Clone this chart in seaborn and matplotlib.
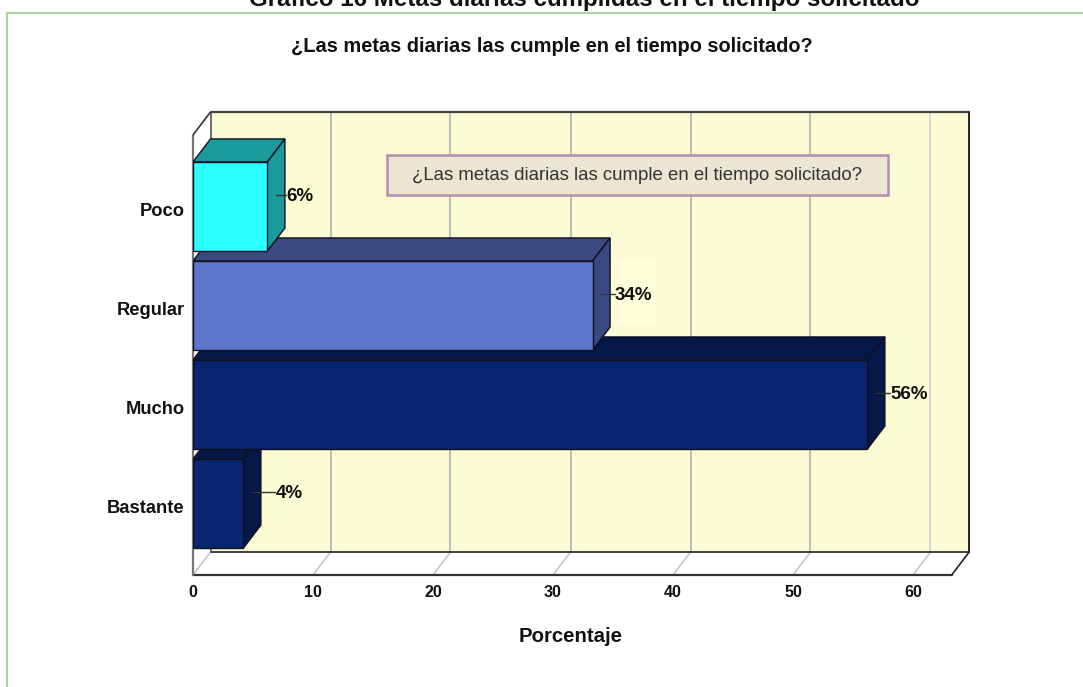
import numpy as np
import pandas as pd
import seaborn as sns
import matplotlib.pyplot as plt
from matplotlib.lines import Line2D
from matplotlib.patches import Rectangle

# === Datos ===
categorias = ["Poco", "Regular", "Mucho", "Bastante"]
porcentajes = [6.2, 33.3, 56.2, 4.2]
etiquetas = ["6%", "34%", "56%", "4%"]
ticks_x = [0, 10, 20, 30, 40, 50, 60]

titulo = "Gráfico 16 Metas diarias cumplidas en el tiempo solicitado"
subtitulo = "¿Las metas diarias las cumple en el tiempo solicitado?"
leyenda = "¿Las metas diarias las cumple en el tiempo solicitado?"
eje_x = "Porcentaje"

# === Colores ===
color_frente = ["#29FFFF", "#5C77CC", "#08266F", "#08266F"]
color_lado = ["#1A9A9A", "#3A4A80", "#051848", "#051848"]
color_pared = "#FBFBD4"

# === Layout (pixeles) ===
W, H = 1083, 687
PX_X = 12.0   # pixeles por unidad en x
PX_Y = 99.0   # pixeles por categoria
dx = 17.5 / PX_X
dy = -23 / PX_Y
gap_etiqueta = [19, 22, 23, 32]
x_frente_max = (951.7 - 193) / PX_X

sns.set_theme(style="white")
plt.rcParams["font.family"] = ["Liberation Sans", "DejaVu Sans"]

fig = plt.figure(figsize=(W / 100, H / 100), dpi=100, facecolor="white")
ax = fig.add_axes([193 / W, 1 - 575 / H, (969 - 193) / W, (575 - 112) / H])

df = pd.DataFrame({"categoria": categorias, "porcentaje": porcentajes})
sns.barplot(data=df, y="categoria", x="porcentaje", hue="categoria",
            palette=color_frente, hue_order=categorias, width=0.9, saturation=1,
            edgecolor="#101020", linewidth=1, legend=False, ax=ax, zorder=20)
barras = [p for p in ax.patches if p.get_width() > 0]

y_suelo = 3 + (575 - 503.5) / PX_Y
y_techo = y_suelo - (575 - 135) / PX_Y
ax.set_xlim(0, (969 - 193) / PX_X)
ax.set_ylim(y_suelo, y_techo + dy)
ax.set_facecolor("white")
for s in ax.spines.values():
    s.set_visible(False)

# === Caja 3D: pared, suelo y rejilla ===
ax.fill([dx, x_frente_max + dx, x_frente_max + dx, dx],
        [y_techo + dy, y_techo + dy, y_suelo + dy, y_suelo + dy],
        color=color_pared, lw=0, zorder=1)
for t in ticks_x[1:]:
    c = "#D0D0D0" if t == 60 else "#B4B4B4"
    ax.plot([t + dx, t + dx], [y_techo + dy, y_suelo + dy], color=c, lw=1.2, zorder=2)
for t in ticks_x:
    ax.plot([t, t + dx], [y_suelo, y_suelo + dy], color="#C4C4C4", lw=1.2, zorder=2)
ax.plot([dx, x_frente_max + dx], [y_techo + dy, y_techo + dy], color="#444444", lw=1.6, zorder=3, clip_on=False)
ax.plot([x_frente_max + dx, x_frente_max + dx], [y_techo + dy, y_suelo + dy], color="#222222", lw=1.4, zorder=3, clip_on=False)
ax.plot([dx, x_frente_max + dx], [y_suelo + dy, y_suelo + dy], color="#333333", lw=1.3, zorder=3)
ax.plot([0, x_frente_max], [y_suelo, y_suelo], color="#333333", lw=1.6, zorder=3, clip_on=False)
ax.plot([x_frente_max, x_frente_max + dx], [y_suelo, y_suelo + dy], color="#222222", lw=1.2, zorder=3, clip_on=False)
ax.plot([0, 0], [y_techo, y_suelo], color="#777777", lw=1.6, zorder=3, clip_on=False)
ax.plot([dx, dx], [y_techo + dy, y_suelo + dy], color="#555555", lw=1.2, zorder=3)
ax.plot([0, dx], [y_techo, y_techo + dy], color="#333333", lw=1.2, zorder=3)

# === Barras 3D (de abajo hacia arriba, la de arriba queda delante) ===
for i, p in enumerate(barras):
    x1 = p.get_width()
    y0 = p.get_y()
    y1 = y0 + p.get_height()
    z = 30 - 3 * i
    ax.fill([0, dx, x1 + dx, x1], [y0, y0 + dy, y0 + dy, y0],
            facecolor=color_lado[i], edgecolor="#101020", lw=1, zorder=z)
    ax.fill([x1, x1 + dx, x1 + dx, x1], [y0, y0 + dy, y1 + dy, y1],
            facecolor=color_lado[i], edgecolor="#101020", lw=1, zorder=z)
    p.set_zorder(z + 1)

    # etiqueta con su linea guia
    yc = (y0 + y1) / 2 + dy / 2
    x_txt = x1 + gap_etiqueta[i] / PX_X
    if etiquetas[i] == "34%":
        ax.add_patch(Rectangle((x1 + dx, yc - 0.33), 46 / PX_X, 0.62,
                               facecolor="#FEFED9", lw=0, zorder=4))
    ax.plot([x1 + dx / 2, x_txt], [yc, yc], color="#333333", lw=1, zorder=40)
    ax.text(x_txt, yc + 0.015, etiquetas[i], ha="left", va="center", fontsize=13.5,
            fontweight="bold", color="#111111", zorder=41)

# === Ejes ===
ax.set_xticks(ticks_x)
ax.set_xticklabels(ticks_x, fontsize=11.5, fontweight="bold", color="#111111")
ax.set_yticks(np.arange(len(categorias)) + 0.035)
ax.set_yticklabels(categorias, fontsize=13.2, fontweight="bold", color="#111111")
ax.tick_params(axis="both", length=0)
ax.tick_params(axis="x", pad=7)
ax.tick_params(axis="y", pad=6)
ax.set_xlabel("")
ax.set_ylabel("")

# === Caja de texto ===
ax.add_patch(Rectangle(((387 - 193) / PX_X, y_suelo - (575 - 155) / PX_Y), 501 / PX_X, 40 / PX_Y,
                       facecolor="#EBE5D2", edgecolor="#B48CB4", lw=1.8, zorder=50))
ax.text((637.5 - 193) / PX_X, y_suelo - (575 - 176) / PX_Y, leyenda, ha="center", va="center",
        fontsize=13.4, color="#333333", zorder=51)

# === Titulos y marco ===
fig.text(584 / W, 1 - 6 / H, titulo, ha="center", va="baseline", fontsize=17.4,
         fontweight="bold", color="#111111")
fig.text(552 / W, 1 - 47 / H, subtitulo, ha="center", va="center", fontsize=14.4,
         fontweight="bold", color="#111111")
fig.text(571 / W, 1 - 637 / H, eje_x, ha="center", va="center", fontsize=14.7,
         fontweight="bold", color="#111111")

fig.add_artist(Line2D([7 / W, 7 / W, 1], [0, 1 - 13 / H, 1 - 13 / H], color="#A9D49A", lw=1.5))

fig.savefig("out.png", dpi=100)
